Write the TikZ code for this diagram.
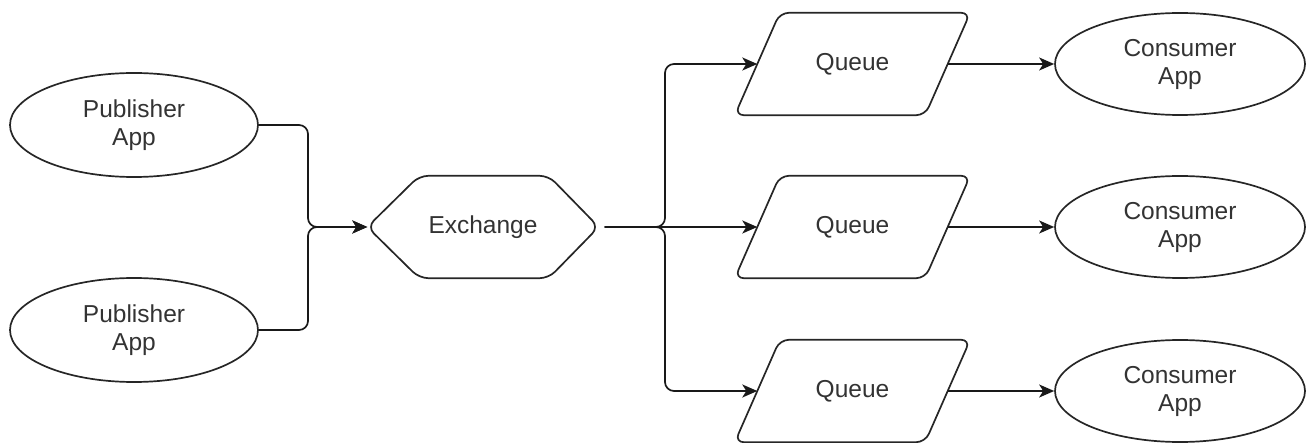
\documentclass[tikz,border=0pt]{standalone}
\usepackage{fontspec}
\setmainfont{Liberation Sans}
\usetikzlibrary{shapes.geometric,arrows.meta}
\begin{document}
\begin{tikzpicture}[x=1pt,y=-1pt,
  txt/.style={text=black!80, font=\fontsize{24.5pt}{28pt}\selectfont, align=center, inner sep=0pt},
  app/.style={txt, ellipse, draw=black!85, line width=1.7pt, minimum width=248pt, minimum height=104pt},
  plain/.style={txt, minimum height=102pt},
  outline/.style={draw=black!85, line width=1.7pt, rounded corners=9pt},
  conn/.style={draw=black!90, line width=1.7pt, -{Stealth[length=15pt,width=13pt,inset=4pt]}},
  connr/.style={conn, rounded corners=9pt}]
\useasboundingbox (0,0) rectangle (1311,443);
% publishers
\node[app] (p1) at (134,125) {Publisher\\App};
\node[app] (p2) at (134,330) {Publisher\\App};
% exchange
\node[plain, minimum width=231pt] (ex) at (483,227) {Exchange};
\draw[outline] (ex.west) -- ([xshift=52pt]ex.north west) -- ([xshift=-50pt]ex.north east) -- (ex.east)
  -- ([xshift=-50pt]ex.south east) -- ([xshift=52pt]ex.south west) -- cycle;
% queues
\foreach \i/\y in {1/64, 2/227, 3/391}{
  \node[plain, minimum width=190pt] (q\i) at (852.5,\y) {Queue};
  \draw[outline] ([xshift=-22.5pt]q\i.south west) -- ([xshift=22.5pt]q\i.north west)
    -- ([xshift=22.5pt]q\i.north east) -- ([xshift=-22.5pt]q\i.south east) -- cycle;
  \node[app, minimum width=250pt, minimum height=102pt] (c\i) at (1180,\y) {Consumer\\App};
  \draw[conn] (q\i.east) -- (c\i.west);
}
% merge
\coordinate (m) at (308,227);
\coordinate (b) at (665,227);
\draw[connr] (p1.east) -| (m) -- (ex.west);
\draw[connr] (p2.east) -| (m) -- (ex.west);
\draw[connr] ([xshift=6pt]ex.east) -- (b) |- (q1.west);
\draw[conn] ([xshift=6pt]ex.east) -- (q2.west);
\draw[connr] ([xshift=6pt]ex.east) -- (b) |- (q3.west);
\end{tikzpicture}
\end{document}
